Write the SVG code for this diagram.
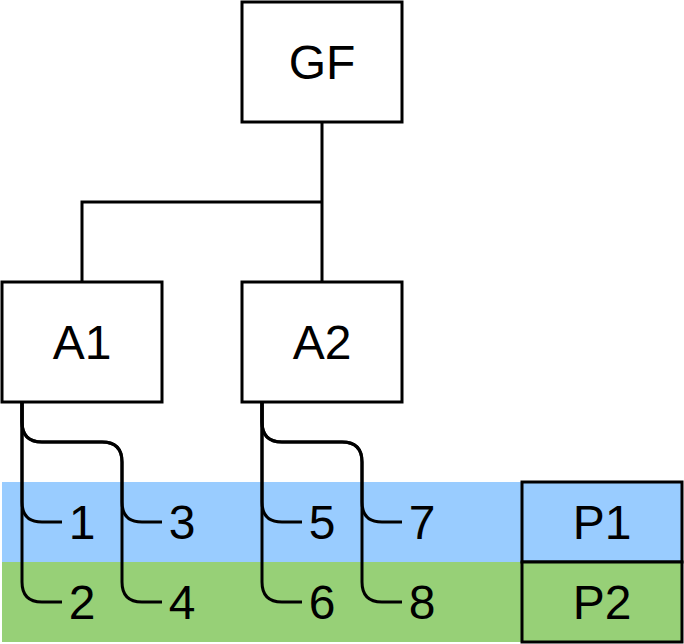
<svg xmlns="http://www.w3.org/2000/svg" width="684" height="644" viewBox="0 0 684 644">
<style>
.box{fill:#fff;stroke:#000;stroke-width:3}
.lbl{font-family:"Liberation Sans",Arial,sans-serif;font-size:48px;fill:#000;text-anchor:middle}
.c{fill:none;stroke:#000;stroke-width:3}
</style>
<g id="bands">
<rect x="2" y="482" width="520" height="80" fill="#99CCFF"/>
<rect x="2" y="562" width="520" height="80" fill="#97D077"/>
</g>
<g id="connectors">
<path class="c" d="M322 122 V202 M322 202 V282 M322 202 H82 V282"/>
<path class="c" d="M22 402 V502 Q22 522 42 522 H62"/>
<path class="c" d="M22 402 V582 Q22 602 42 602 H62"/>
<path class="c" d="M22 402 V422 Q22 442 42 442 H102 Q122 442 122 462 V502 Q122 522 142 522 H162"/>
<path class="c" d="M22 402 V422 Q22 442 42 442 H102 Q122 442 122 462 V582 Q122 602 142 602 H162"/>
<path class="c" d="M262 402 V502 Q262 522 282 522 H302"/>
<path class="c" d="M262 402 V582 Q262 602 282 602 H302"/>
<path class="c" d="M262 402 V422 Q262 442 282 442 H342 Q362 442 362 462 V502 Q362 522 382 522 H402"/>
<path class="c" d="M262 402 V422 Q262 442 282 442 H342 Q362 442 362 462 V582 Q362 602 382 602 H402"/>
</g>
<g id="GF"><rect class="box" x="242" y="2" width="160" height="120"/><text class="lbl" x="322" y="79">GF</text></g>
<g id="A1"><rect class="box" x="2" y="282" width="160" height="120"/><text class="lbl" x="82" y="359">A1</text></g>
<g id="A2"><rect class="box" x="242" y="282" width="160" height="120"/><text class="lbl" x="322" y="359">A2</text></g>
<g id="n1"><text class="lbl" x="82" y="539">1</text></g>
<g id="n2"><text class="lbl" x="82" y="619">2</text></g>
<g id="n3"><text class="lbl" x="182" y="539">3</text></g>
<g id="n4"><text class="lbl" x="182" y="619">4</text></g>
<g id="n5"><text class="lbl" x="322" y="539">5</text></g>
<g id="n6"><text class="lbl" x="322" y="619">6</text></g>
<g id="n7"><text class="lbl" x="422" y="539">7</text></g>
<g id="n8"><text class="lbl" x="422" y="619">8</text></g>
<g id="P1"><rect class="box" x="522" y="482" width="160" height="80" fill="#99CCFF" style="fill:#99CCFF"/><text class="lbl" x="602" y="539">P1</text></g>
<g id="P2"><rect class="box" x="522" y="562" width="160" height="80" style="fill:#97D077"/><text class="lbl" x="602" y="619">P2</text></g>
</svg>
